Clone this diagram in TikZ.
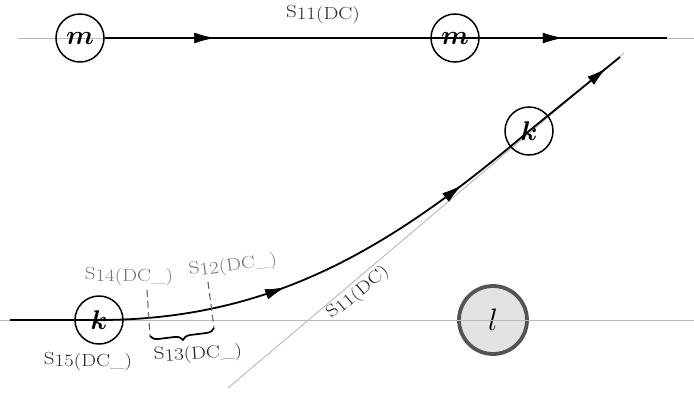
\RequirePackage{fix-cm}
\documentclass[tikz,border=0pt]{standalone}
\usepackage{bm}
\usetikzlibrary{decorations.markings,decorations.pathreplacing,arrows.meta}
\newcommand\slab[2]{\scalebox{1.2}[1]{\raisebox{.12em}{S}#1(DC#2)}}
\tikzset{
  x=1pt,y=-1pt,
  axisline/.style={draw=black!28,line width=0.9pt},
  flow/.style={draw=black,line width=1.8pt},
  mid/.style={postaction={decorate},decoration={markings,mark=at position #1 with {\arrow{Latex[length=20pt,width=10.5pt]}}}},
  ball/.style={circle,draw=black,line width=1.5pt,minimum size=48pt,inner sep=0pt,font=\fontsize{27}{30}\selectfont},
  bigball/.style={circle,draw=black!67,line width=3.8pt,fill=black!11,minimum size=68pt,inner sep=0pt,font=\fontsize{31}{34}\selectfont},
  lab/.style={font=\fontsize{17.5}{20}\selectfont,inner sep=0pt,text=black!85},
  glab/.style={font=\fontsize{17.5}{20}\selectfont,inner sep=0pt,text=black!55},
  guide/.style={draw=black!60,line width=1.1pt,dash pattern=on 7pt off 4pt},
}
\begin{document}
\begin{tikzpicture}
\useasboundingbox (0,0) rectangle (694,394);
\node[bigball] (l) at (493,320) {$l$};
% axis lines
\coordinate (t0) at (18,38);
\coordinate (t1) at (694,38);
\coordinate (te) at (667,38);
\coordinate (b0) at (0,320);
\coordinate (b1) at (694,320);
\coordinate (bs) at (10,320);
\coordinate (g0) at (228,388);
\coordinate (g1) at (624,53);
\coordinate (ce) at (620,57);
\draw[axisline] (t0) -- (t1);
\draw[axisline] (b0) -- (b1);
\draw[axisline] (g0) -- (g1);
% nodes
\node[ball] (m1) at (80,38) {$\bm{m}$};
\node[ball] (m2) at (455,38) {$\bm{m}$};
\node[ball] (k1) at (99,320) {$\bm{k}$};
\node[ball] (k2) at (529,131) {$\bm{k}$};
% flows
\draw[flow,mid=0.195,mid=0.815] (m1.east) -- (te);
\draw[flow] (bs) -- (k1.center);
\draw[flow,mid=0.395,mid=0.82] (k1.center) .. controls (280,320) and (400,240) .. (k2.center);
\draw[flow,mid=0.85] (k2.center) -- (ce);
% guides
\coordinate (d1a) at (147,290);
\coordinate (d1b) at (150,336);
\coordinate (d2a) at (208,282);
\coordinate (d2b) at (214,328);
\draw[guide] (d1a) -- (d1b);
\draw[guide] (d2a) -- (d2b);
\draw[line width=1.7pt,decorate,decoration={brace,amplitude=8pt,mirror}] (d1b) -- (d2b);
% labels
\node[lab] (s11t) at (323,15) {\slab{11}{}};
\node[lab] (s15) at (88,362) {\slab{15}{\_}};
\node[lab,rotate=4] (s13) at (198,354) {\slab{13}{\_}};
\node[glab] (s14) at (129,277) {\slab{14}{\_}};
\node[glab,rotate=8] (s12) at (233,266) {\slab{12}{\_}};
\node[lab,rotate=40] (s11d) at (358,293) {\slab{11}{}};
\end{tikzpicture}
\end{document}
